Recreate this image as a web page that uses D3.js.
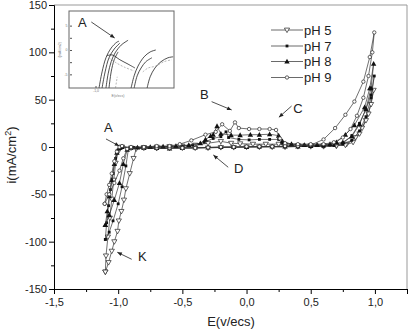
<!DOCTYPE html>
<html><head><meta charset="utf-8">
<script src="https://cdn.jsdelivr.net/npm/d3@7"></script>
<style>
html,body{margin:0;padding:0;background:#fff;}
svg{display:block;font-family:"Liberation Sans",Arial,sans-serif;}
</style></head>
<body><svg id="c" width="412" height="333"></svg>
<script>
// ---------- data ----------
const seriesNames = ["pH 5", "pH 7", "pH 8", "pH 9"];
const xTicks = [-1.5, -1.0, -0.5, 0.0, 0.5, 1.0];
const yTicks = [-150, -100, -50, 0, 50, 100, 150];

const pH5 = [[-1.10,-132],[-1.095,-115],[-1.08,-95],[-1.065,-75],[-1.05,-55],[-1.035,-35],[-1.02,-17],[-1.0,-5],[-0.97,0],
 [-0.9,-1],[-0.8,-1],[-0.7,-1.5],[-0.6,-1],[-0.5,-1],[-0.4,-1],[-0.3,-1],[-0.2,-0.5],[-0.1,-0.5],[0.0,0],[0.1,0],[0.2,0],[0.3,0],[0.4,0.5],[0.5,0.5],[0.6,0.5],[0.7,1],
 [0.78,3],[0.85,10],[0.9,20],[0.95,35],[0.99,60],
 [0.97,45],[0.93,28],[0.88,14],[0.83,5],[0.77,2],[0.7,1.5],[0.6,1.5],[0.5,1.5],[0.4,1.5],[0.3,2],
 [0.25,3],[0.15,3],[0.05,3],[-0.05,3.5],[-0.12,4],[-0.2,6],[-0.3,4],[-0.4,2],[-0.5,1],[-0.6,0.5],[-0.7,0],[-0.8,-0.5],[-0.86,-2],
 [-0.88,-12],[-0.91,-28],[-0.94,-44],[-0.955,-56],[-0.975,-68],[-0.995,-78],[-1.005,-89],[-1.03,-100],[-1.05,-110],[-1.075,-122],[-1.10,-132]];

const pH7 = [[-1.10,-97.6],[-1.09,-80],[-1.075,-62],[-1.06,-45],[-1.04,-28],[-1.02,-12],[-1.0,-3],[-0.98,0],
 [-0.9,-1],[-0.8,-1.5],[-0.7,-1],[-0.6,-1],[-0.5,-1],[-0.4,-1],[-0.3,-0.5],[-0.2,-0.5],[-0.1,0],[0.0,0],[0.1,0],[0.2,0.5],[0.3,0.5],[0.4,0.5],[0.5,1],[0.6,1],[0.68,1.5],
 [0.75,4],[0.82,12],[0.88,25],[0.93,40],[0.97,55],[0.995,75],
 [0.97,52],[0.93,32],[0.88,17],[0.82,7],[0.75,3],[0.65,2],[0.55,2],[0.45,2],[0.35,2.5],
 [0.28,4],[0.25,8],[0.18,8],[0.1,8],[0.02,7.5],[-0.06,8],[-0.14,10],[-0.16,16],[-0.2,11],[-0.26,9],[-0.33,5],[-0.42,2],[-0.5,1],[-0.6,0.5],[-0.7,0],[-0.8,0],[-0.88,-0.5],[-0.92,-2],
 [-0.94,-20],[-0.97,-42],[-1.0,-60],[-1.04,-78],[-1.07,-90],[-1.10,-97.6]];

const pH8 = [[-1.10,-82.5],[-1.085,-68],[-1.07,-52],[-1.05,-35],[-1.03,-18],[-1.01,-6],[-0.99,-1],[-0.97,0],
 [-0.9,-1],[-0.8,-1],[-0.7,-1],[-0.6,-1.5],[-0.5,-1],[-0.4,-0.5],[-0.3,-0.5],[-0.2,0],[-0.1,0],[0.0,0],[0.1,0.5],[0.2,0.5],[0.3,0.5],[0.4,0.5],[0.5,1],[0.6,1.5],
 [0.7,5],[0.77,13],[0.84,23],[0.92,42],[0.96,62],[0.99,88],
 [0.97,62],[0.93,40],[0.88,24],[0.82,11],[0.75,5],[0.65,3],[0.55,2],[0.45,2],[0.35,3],
 [0.28,6],[0.25,12],[0.18,13.5],[0.1,13],[0.03,13],[-0.05,12.5],[-0.12,12.5],[-0.2,14],[-0.23,22],[-0.26,13],[-0.28,11.5],[-0.32,8],[-0.36,4],[-0.45,2],[-0.55,1],[-0.65,0.5],[-0.75,0],[-0.85,-0.5],[-0.93,-3],
 [-0.96,-18],[-0.99,-38],[-1.03,-56],[-1.07,-72],[-1.10,-82.5]];

const pH9 = [[-1.105,-60],[-1.09,-50],[-1.07,-40],[-1.05,-28],[-1.03,-15],[-1.01,-5],[-0.99,0],[-0.97,1],
 [-0.9,-1],[-0.8,-1],[-0.7,-1],[-0.6,-1],[-0.5,-1],[-0.4,-1],[-0.3,-0.5],[-0.2,0],[-0.1,0],[0.0,0.5],[0.1,0.5],[0.2,0.5],[0.3,1],[0.4,1],[0.5,2],
 [0.6,8],[0.69,20],[0.77,34],[0.84,48],[0.91,69],[0.96,95],[0.995,121],
 [0.98,100],[0.95,75],[0.91,52],[0.86,33],[0.81,19],[0.75,10],[0.68,5],[0.6,3],[0.5,3],[0.4,3],[0.3,4],
 [0.26,9],[0.23,18],[0.18,19],[0.1,19],[0.02,19],[-0.06,20],[-0.09,26],[-0.13,17],[-0.19,24],[-0.24,16],[-0.32,13],[-0.43,7],[-0.52,3],
 [-0.6,1],[-0.7,1],[-0.8,0],[-0.9,0],[-0.93,-2],
 [-0.96,-12],[-0.99,-25],[-1.03,-38],[-1.07,-50],[-1.105,-60]];

const seriesData = [pH5, pH7, pH8, pH9];
const seriesMarkers = ["triDownOpen", "squareFilled", "triUpFilled", "circleOpen"];

// inset (zoom of region A)
const insetXTicks = [-1.0];
const insetYTicks = [-5, 0, 5];
const insetCurves = [
 [[-0.993,-7.8],[-0.986,-4.5],[-0.977,-1.6],[-0.965,0.4],[-0.952,1.6],[-0.947,1.8]],
 [[-0.986,-7.8],[-0.979,-4.5],[-0.970,-1.6],[-0.958,0.2],[-0.945,1.4]],
 [[-0.977,-7.8],[-0.972,-4.9],[-0.965,-2.4],[-0.956,-0.6],[-0.942,1.0],[-0.933,1.6],[-0.926,2.0]],
 [[-0.970,-7.8],[-0.965,-4.5],[-0.958,-2.0],[-0.949,-0.4]],
 [[-0.975,-1.2],[-0.963,-1.0],[-0.945,-2.0],[-0.926,-2.9],[-0.910,-3.7]],
 [[-0.919,-7.8],[-0.912,-5.3],[-0.903,-3.3],[-0.889,-1.4],[-0.875,-0.4],[-0.862,0]],
 [[-0.912,-7.8],[-0.905,-5.3],[-0.896,-3.7],[-0.885,-2.4],[-0.871,-1.6]],
 [[-0.882,-7.8],[-0.875,-5.5],[-0.864,-3.7],[-0.850,-2.4],[-0.834,-1.6],[-0.822,-1.4]]
];
const insetDashed = [
 [[-0.970,-1.6],[-0.954,-2.6],[-0.935,-3.5],[-0.912,-4.3]],
 [[-0.892,-4.5],[-0.880,-3.7],[-0.862,-3.3],[-0.843,-2.4],[-0.825,-2.0]],
 [[-0.955,-7.8],[-0.951,-5.5]]
];

// annotations: label, text position in data, arrow from/to in data
const annotations = [
 {t:"A", at:[-1.111,15.8], from:[-1.095,8.5], to:[-0.991,1.0]},
 {t:"K", at:[-0.846,-120.4], from:[-0.895,-118.6], to:[-1.007,-111.2]},
 {t:"D", at:[-0.098,-27.5], from:[-0.143,-21.4], to:[-0.259,-8.4]},
 {t:"B", at:[-0.363,50.7], from:[-0.272,47.9], to:[-0.116,39.1]},
 {t:"C", at:[0.364,35.9], from:[0.351,43.3], to:[0.252,31.4]}
];

// ---------- drawing ----------
const svg = d3.select("#c");
const x = d3.scaleLinear().domain([-1.5, 1.25]).range([54, 407]);
const y = d3.scaleLinear().domain([-150, 150]).range([289, 5]);
const fmt = d => d3.format(".1f")(d).replace(".", ",").replace("\u2212", "-");

// frame top/right
svg.append("line").attr("x1", x(-1.5)).attr("x2", x(1.25)).attr("y1", y(150)).attr("y2", y(150)).attr("stroke", "#999").attr("stroke-width", 1);
svg.append("line").attr("x1", x(1.25)).attr("x2", x(1.25)).attr("y1", y(150)).attr("y2", y(-150)).attr("stroke", "#999").attr("stroke-width", 1);

// minor ticks
const xMinor = d3.range(-1.5, 1.26, 0.25).filter(v => !xTicks.some(t => Math.abs(t - v) < 1e-6));
const yMinor = d3.range(-125, 150, 50);
svg.append("g").attr("transform", `translate(0,${y(-150)})`)
  .call(d3.axisBottom(x).tickValues(xMinor).tickSize(3).tickFormat(""))
  .call(g => g.select(".domain").remove());
svg.append("g").attr("transform", `translate(${x(-1.5)},0)`)
  .call(d3.axisLeft(y).tickValues(yMinor).tickSize(3).tickFormat(""))
  .call(g => g.select(".domain").remove());

// major axes
const gx = svg.append("g").attr("transform", `translate(0,${y(-150)})`)
  .call(d3.axisBottom(x).tickValues(xTicks).tickSize(5).tickPadding(4).tickFormat(fmt));
const gy = svg.append("g").attr("transform", `translate(${x(-1.5)},0)`)
  .call(d3.axisLeft(y).tickValues(yTicks).tickSize(5).tickPadding(2).tickFormat(d => String(d)));
[gx, gy].forEach(g => {
  g.selectAll("text").attr("font-size", 11).attr("font-family", '"Liberation Sans",Arial,sans-serif').attr("fill", "#222");
  g.select(".domain").attr("stroke", "#000");
});
svg.selectAll(".tick line").attr("stroke", "#000");

// axis titles
svg.append("text").attr("x", 231).attr("y", 326).attr("text-anchor", "middle")
  .attr("font-size", 13).attr("fill", "#222").text("E(v/ecs)");
const yl = svg.append("text").attr("transform", "translate(16,155) rotate(-90)")
  .attr("text-anchor", "middle").attr("font-size", 13).attr("fill", "#222");
yl.append("tspan").text("i(mA/cm");
yl.append("tspan").attr("dy", -5).attr("font-size", 9).text("2");
yl.append("tspan").attr("dy", 5).text(")");

// marker shapes
function drawMarker(g, type, cx, cy) {
  if (type === "triDownOpen") {
    g.append("path").attr("d", `M${cx-2.6},${cy-1.9}L${cx+2.6},${cy-1.9}L${cx},${cy+2.6}Z`)
      .attr("fill", "#fff").attr("stroke", "#222").attr("stroke-width", 0.7);
  } else if (type === "squareFilled") {
    g.append("rect").attr("x", cx-1.4).attr("y", cy-1.4).attr("width", 2.8).attr("height", 2.8).attr("fill", "#111");
  } else if (type === "triUpFilled") {
    g.append("path").attr("d", `M${cx-2.7},${cy+2}L${cx+2.7},${cy+2}L${cx},${cy-2.8}Z`).attr("fill", "#111");
  } else {
    g.append("circle").attr("cx", cx).attr("cy", cy).attr("r", 1.7)
      .attr("fill", "#fff").attr("stroke", "#222").attr("stroke-width", 0.7);
  }
}

const line = d3.line().x(d => x(d[0])).y(d => y(d[1]));
seriesData.forEach((data, k) => {
  const g = svg.append("g");
  g.append("path").attr("d", line(data)).attr("fill", "none").attr("stroke", "#333").attr("stroke-width", 0.7);
  data.forEach(d => drawMarker(g, seriesMarkers[k], x(d[0]), y(d[1])));
});

// legend
const legY = [30, 46, 61.5, 77.5];
seriesNames.forEach((n, k) => {
  const g = svg.append("g");
  g.append("line").attr("x1", 271).attr("x2", 303).attr("y1", legY[k]).attr("y2", legY[k]).attr("stroke", "#444").attr("stroke-width", 0.8);
  drawMarker(g, seriesMarkers[k], 287, legY[k]);
  g.append("text").attr("x", 304).attr("y", legY[k] + 4.6).attr("font-size", 13).attr("fill", "#222").text(n);
});

function arrow(parent, x1, y1, x2, y2) {
  parent.append("line").attr("x1", x1).attr("y1", y1).attr("x2", x2).attr("y2", y2).attr("stroke", "#222").attr("stroke-width", 0.8);
  const ang = Math.atan2(y2 - y1, x2 - x1), L = 5, w = 0.4;
  parent.append("path").attr("d", `M${x2},${y2}L${x2 - L*Math.cos(ang - w)},${y2 - L*Math.sin(ang - w)}L${x2 - L*Math.cos(ang + w)},${y2 - L*Math.sin(ang + w)}Z`).attr("fill", "#222");
}

// annotations
annotations.forEach(a => {
  svg.append("text").attr("x", x(a.at[0])).attr("y", y(a.at[1])).attr("font-size", 13).attr("fill", "#222").text(a.t);
  arrow(svg, x(a.from[0]), y(a.from[1]), x(a.to[0]), y(a.to[1]));
});

// ---------- inset ----------
const ix = d3.scaleLinear().domain([-1.06, -0.82]).range([70, 174]);
const iy = d3.scaleLinear().domain([-7.8, 8]).range([88, 11]);
const ins = svg.append("g");
ins.append("rect").attr("x", 69).attr("y", 11).attr("width", 105).attr("height", 77).attr("fill", "#fff").attr("stroke", "#666").attr("stroke-width", 1);
ins.append("g").attr("transform", `translate(70,0)`)
  .call(d3.axisRight(iy).tickValues([-5, -2.5, 0, 2.5, 5]).tickSize(2).tickFormat(""))
  .call(g => g.select(".domain").remove())
  .call(g => g.selectAll("line").attr("stroke", "#555"));
insetYTicks.forEach(v => ins.append("text").attr("x", 67.5).attr("y", iy(v) + 1.3).attr("text-anchor", "end").attr("font-size", 3.5).attr("fill", "#777").text(String(v)));
insetXTicks.forEach(v => {
  ins.append("line").attr("x1", ix(v)).attr("x2", ix(v)).attr("y1", 88).attr("y2", 86).attr("stroke", "#555");
  ins.append("text").attr("x", ix(v)).attr("y", 92).attr("text-anchor", "middle").attr("font-size", 3.5).attr("fill", "#777").text(fmt(v));
});
ins.append("text").attr("x", 118).attr("y", 97).attr("text-anchor", "middle").attr("font-size", 3.5).attr("fill", "#777").text("E(v/ecs)");
ins.append("text").attr("transform", "translate(61,50) rotate(-90)").attr("text-anchor", "middle").attr("font-size", 3.5).attr("fill", "#777").text("i(mA/cm2)");
const iline = d3.line().x(d => ix(d[0])).y(d => iy(d[1])).curve(d3.curveCatmullRom);
insetCurves.forEach(c => ins.append("path").attr("d", iline(c)).attr("fill", "none").attr("stroke", "#222").attr("stroke-width", 0.8));
insetDashed.forEach(c => ins.append("path").attr("d", iline(c)).attr("fill", "none").attr("stroke", "#888").attr("stroke-width", 0.6).attr("stroke-dasharray", "2,1.5"));
ins.append("text").attr("x", 78).attr("y", 27.3).attr("font-size", 13).attr("fill", "#222").text("A");
arrow(ins, 91.3, 22, 114.7, 38);
</script>
</body></html>
